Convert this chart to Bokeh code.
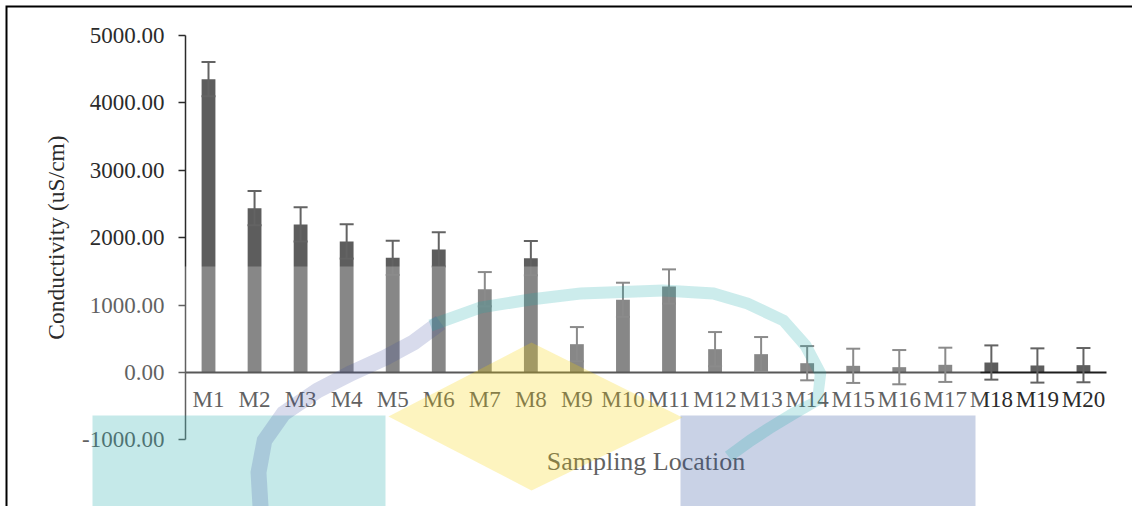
import numpy as np
from bokeh.plotting import figure
from bokeh.models import (ColumnDataSource, FixedTicker, PrintfTickFormatter, Range1d,
                          Whisker, TeeHead, BoxAnnotation, PolyAnnotation)
from bokeh.embed import file_html
from bokeh.resources import INLINE

# ---------------- data ----------------
locations = ["M1", "M2", "M3", "M4", "M5", "M6", "M7", "M8", "M9", "M10",
             "M11", "M12", "M13", "M14", "M15", "M16", "M17", "M18", "M19", "M20"]
conductivity = [4352, 2437, 2196, 1944, 1702, 1825, 1236, 1696, 420, 1078,
                1276, 346, 272, 138, 99, 79, 114, 148, 104, 109]
std_error = [254, 254, 254, 254, 254, 254, 254, 254, 254, 254,
             254, 254, 254, 254, 254, 254, 254, 254, 254, 254]
y_ticks = [-1000, 0, 1000, 2000, 3000, 4000, 5000]

x_pos = list(range(1, len(locations) + 1))
upper = [v + e for v, e in zip(conductivity, std_error)]
lower = [v - e for v, e in zip(conductivity, std_error)]
src = ColumnDataSource(dict(x=x_pos, loc=locations, val=conductivity, upper=upper, lower=lower))

FONT = "Liberation Serif"
TXT = "#2b2b2b"

W, H = 1132, 506
# the plotting frame fills the whole canvas; axes sit at fixed locations
p = figure(width=W, height=H,
           x_range=Range1d(-3.517, -3.517 + W / 46.05), y_range=Range1d(-(H - 372) / 0.0674, 5519),
           output_backend="svg", toolbar_location=None,
           min_border_left=0, min_border_right=0, min_border_top=0, min_border_bottom=0)
p.outline_line_color = None
p.outline_line_alpha = 0
p.grid.visible = False
p.background_fill_color = "white"
p.border_fill_color = "white"

p.vbar(x="x", top="val", width=0.3, source=src, fill_color="#5d5d5d", line_color=None)

wh = Whisker(source=src, base="x", upper="upper", lower="lower",
             line_color="#636363", line_width=2,
             upper_head=TeeHead(size=14, line_color="#636363", line_width=2),
             lower_head=TeeHead(size=14, line_color="#636363", line_width=2))
wh.level = "annotation"
p.add_layout(wh)

# x axis crossing at zero
xa = p.xaxis[0]
xa.fixed_location = 0
xa.bounds = (0.5, len(locations) + 0.5)
xa.ticker = FixedTicker(ticks=x_pos, minor_ticks=[])
xa.major_label_overrides = {x: name for x, name in zip(x_pos, locations)}
xa.axis_line_color = "#1e1e1e"
xa.axis_line_width = 2
xa.major_tick_line_color = None
xa.minor_tick_line_color = None
xa.major_tick_out = 0
xa.major_tick_in = 0
xa.major_label_standoff = 15
xa.major_label_text_font = FONT
xa.major_label_text_font_size = "23px"
xa.major_label_text_color = TXT
xa.axis_label = "Sampling Location"
xa.axis_label_text_font = FONT
xa.axis_label_text_font_size = "26px"
xa.axis_label_text_font_style = "normal"
xa.axis_label_text_color = TXT
xa.axis_label_standoff = 31

ya = p.yaxis[0]
ya.fixed_location = 0.5
ya.bounds = (y_ticks[0], y_ticks[-1])
ya.ticker = FixedTicker(ticks=y_ticks, minor_ticks=[])
ya.formatter = PrintfTickFormatter(format="%.2f")
ya.axis_line_color = "#2b2b2b"
ya.axis_line_width = 1.5
ya.major_tick_line_color = "#2b2b2b"
ya.major_tick_line_width = 1.5
ya.major_tick_out = 7
ya.major_tick_in = 0
ya.minor_tick_line_color = None
ya.major_label_standoff = 14
ya.major_label_text_font = FONT
ya.major_label_text_font_size = "23px"
ya.major_label_text_color = TXT
ya.axis_label = "Conductivity (uS/cm)"
ya.axis_label_text_font = FONT
ya.axis_label_text_font_size = "23.5px"
ya.axis_label_text_font_style = "normal"
ya.axis_label_text_color = TXT
ya.axis_label_standoff = 10

# ---------------- decoration: frame border and faint watermark ----------------
def cbox(l, r, t, b, **kw):
    return BoxAnnotation(left=l, right=r, top=t, bottom=b,
                         left_units="canvas", right_units="canvas",
                         top_units="canvas", bottom_units="canvas", **kw)

def cpoly(xs, ys, **kw):
    return PolyAnnotation(xs=list(xs), ys=list(ys), xs_units="canvas", ys_units="canvas", **kw)

def band(pts, half):
    pts = np.array(pts, float)
    d = np.gradient(pts, axis=0)
    n = np.stack([-d[:, 1], d[:, 0]], axis=1)
    n /= np.linalg.norm(n, axis=1, keepdims=True)
    a = pts + n * half
    b = pts - n * half
    poly = np.vstack([a, b[::-1]])
    return poly[:, 0], poly[:, 1]

wm = []
wm.append(cbox(78, 980, 266, H, fill_color="white", fill_alpha=0.26, line_color=None, level="overlay"))
wm.append(cbox(92, 385, 415, H, fill_color="#17a7a7", fill_alpha=0.25, line_color=None, level="overlay"))
wm.append(cbox(680, 975, 415, H, fill_color="#274b9b", fill_alpha=0.25, line_color=None, level="overlay"))
wm.append(cpoly([531, 682, 531, 388], [342, 417, 490, 416],
                fill_color="#f7d300", fill_alpha=0.25, line_color=None, level="overlay"))
blue_arc = [(260, H), (258, 472), (264, 440), (283, 413), (317, 390), (350, 373),
            (385, 357), (413, 342), (440, 322)]
teal_arc = [(430, 325), (480, 307), (530, 299), (580, 293), (663, 290), (713, 293),
            (747, 303), (783, 320), (805, 345), (820, 373), (817, 400), (793, 413),
            (770, 427), (750, 440), (728, 456)]
bx, by = band(blue_arc, 8)
wm.append(cpoly(bx, by, fill_color="#3a4aa0", fill_alpha=0.2, line_color=None, level="overlay"))
tx, ty = band(teal_arc, 6)
wm.append(cpoly(tx, ty, fill_color="#17a7a7", fill_alpha=0.22, line_color=None, level="overlay"))

# keep the right margin blank
wm.append(cbox(W - 12, W, 8, H, fill_color="white", fill_alpha=1, line_color=None, level="overlay"))
# outer border: top and left edges only (L shape)
wm.append(cpoly([5, W, W, 7, 7, 5], [5, 5, 7, 7, H, H],
                fill_color="black", fill_alpha=1, line_color=None, level="overlay"))
for a in wm:
    p.add_layout(a)

open("out.html", "w").write(file_html(p, INLINE))
